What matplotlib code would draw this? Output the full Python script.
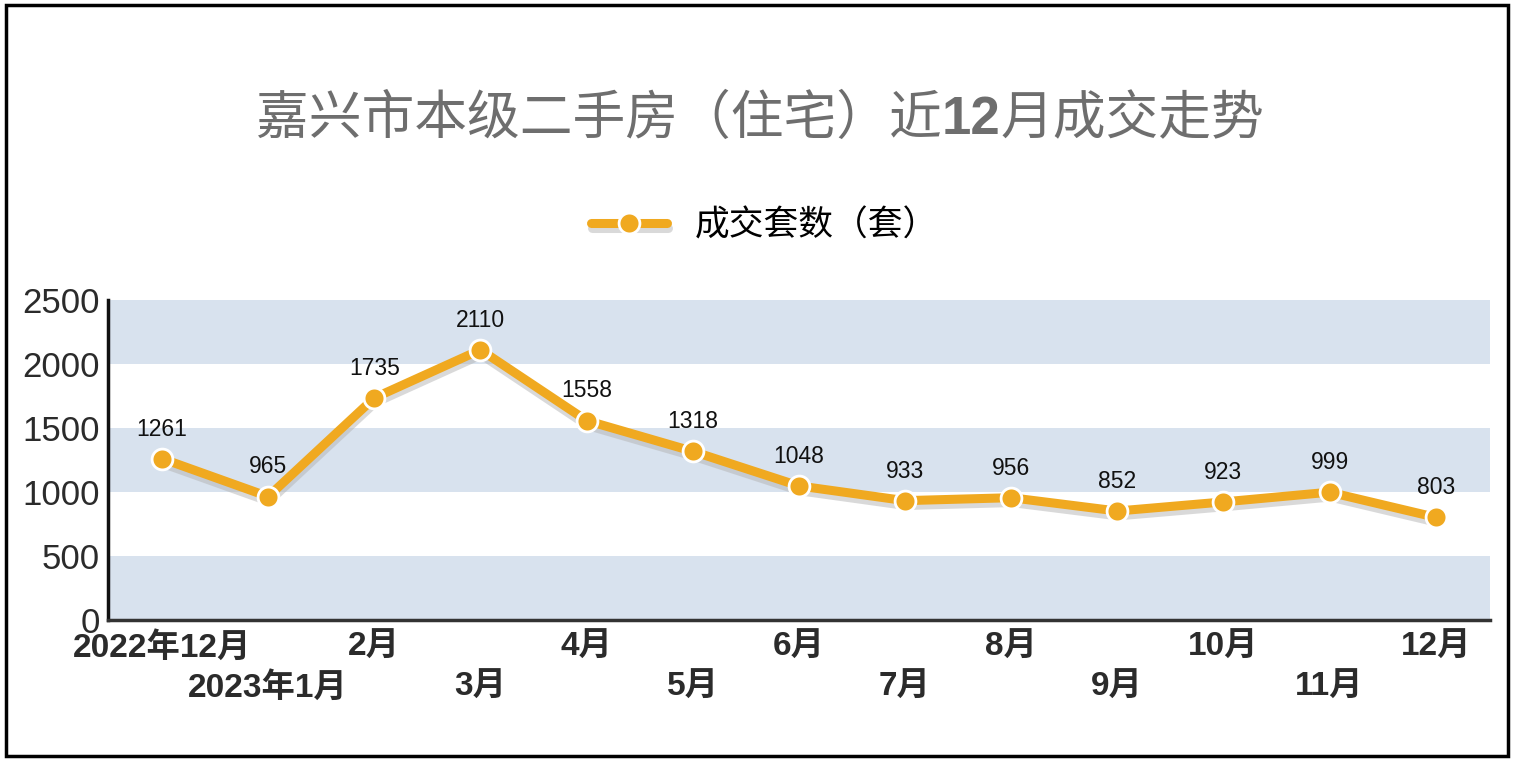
import matplotlib
matplotlib.use("Agg")
import matplotlib.pyplot as plt
import matplotlib.patheffects as pe
from matplotlib.patches import Rectangle

plt.rcParams['font.family'] = ['Liberation Sans', 'Noto Sans CJK SC']

# 数据
months = ['2022年12月', '2023年1月', '2月', '3月', '4月', '5月', '6月',
          '7月', '8月', '9月', '10月', '11月', '12月']
deals = [1261, 965, 1735, 2110, 1558, 1318, 1048, 933, 956, 852, 923, 999, 803]
yticks = [0, 500, 1000, 1500, 2000, 2500]
title_parts = [('嘉兴市本级二手房（住宅）近', 'normal'), ('12', 'bold'), ('月成交走势', 'normal')]

orange = '#f0a920'
band = '#d8e2ee'

fig = plt.figure(figsize=(15.14, 7.61), dpi=100)
ax = fig.add_axes([0.0713, 0.185, 0.9127, 0.421])

x = list(range(len(deals)))

# 背景条纹
for lo in (0, 1000, 2000):
    ax.axhspan(lo, lo + 500, color=band, lw=0, zorder=0)

shadow = [pe.SimpleLineShadow(offset=(0.5, -3.5), shadow_color='#b4b4b4', alpha=0.5),
          pe.Normal()]
line, = ax.plot(x, deals, color=orange, lw=6.5, solid_capstyle='round',
                solid_joinstyle='round', path_effects=shadow, zorder=3)
pts, = ax.plot(x, deals, ls='none', marker='o', ms=15, mfc=orange, mec='white',
               mew=2, zorder=4)

for xi, v in zip(x, deals):
    ax.annotate(str(v), (xi, v), xytext=(0, 13), textcoords='offset points',
                ha='center', va='bottom', fontsize=16.5, color='#111111', zorder=5)

ax.set_xlim(-0.51, 12.51)
ax.set_ylim(0, 2500)
ax.set_yticks(yticks)
ax.set_yticklabels([str(t) for t in yticks], fontsize=25, color='#2b2b2b')
ax.set_xticks(x)
ax.set_xticklabels(months, fontsize=24, fontweight='bold', color='#2b2b2b')
ax.tick_params(axis='both', length=0)
ax.tick_params(axis='y', pad=6)
for i, t in enumerate(ax.xaxis.get_major_ticks()):
    t.set_pad(8.5 if i % 2 == 0 else 37)

for s in ('top', 'right'):
    ax.spines[s].set_visible(False)
ax.spines['left'].set_linewidth(2.5)
ax.spines['bottom'].set_linewidth(2.5)
ax.spines['left'].set_color('#111111')
ax.spines['bottom'].set_color('#333333')

# 标题：分段绘制，"12" 加粗，整体居中
renderer = fig.canvas.get_renderer()
texts = []
for s, w in title_parts:
    t = fig.text(0, 0.842, s, va='center', fontsize=38, color='#6e6e6e', fontweight=w)
    texts.append(t)
widths = [t.get_window_extent(renderer).width for t in texts]
xpos = 0.502 * fig.bbox.width - sum(widths) / 2
for t, w in zip(texts, widths):
    t.set_x(xpos / fig.bbox.width)
    xpos += w

fig.legend([(line, pts)], ['成交套数（套）'], loc='center', bbox_to_anchor=(0.505, 0.703),
           frameon=False, fontsize=25, handlelength=2.2, handletextpad=0.8)

fig.patches.append(Rectangle((0.004, 0.007), 0.992, 0.986, transform=fig.transFigure,
                             fill=False, lw=2.5, ec='black'))

fig.savefig('out.png', dpi=100)
